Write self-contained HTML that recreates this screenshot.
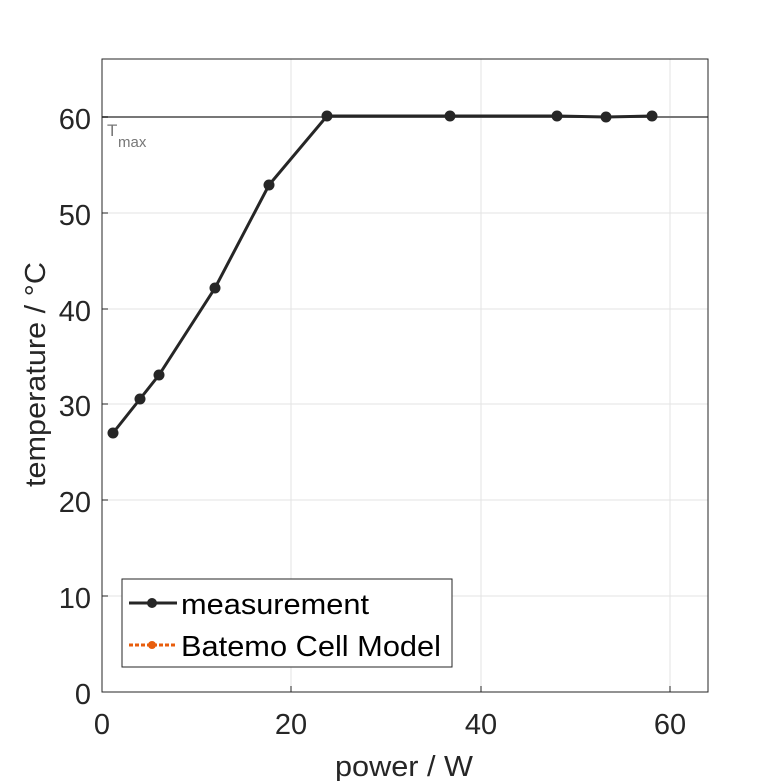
<!DOCTYPE html>
<html><head><style>body{margin:0;background:#fff}svg{display:block}text{font-family:"Liberation Sans",sans-serif}</style></head><body>
<svg width="781" height="781" viewBox="0 0 781 781">
<rect width="781" height="781" fill="#fff"/>
<g stroke="#e3e3e3" stroke-width="1">
<line x1="291" y1="59" x2="291" y2="692"/><line x1="481" y1="59" x2="481" y2="692"/><line x1="670" y1="59" x2="670" y2="692"/>
<line x1="102" y1="596" x2="708" y2="596"/><line x1="102" y1="500" x2="708" y2="500"/><line x1="102" y1="404" x2="708" y2="404"/><line x1="102" y1="309" x2="708" y2="309"/><line x1="102" y1="213" x2="708" y2="213"/><line x1="102" y1="117" x2="708" y2="117"/>
</g>
<line x1="102" y1="117" x2="708" y2="117" stroke="#777" stroke-width="2"/>
<text x="107" y="136" font-size="17" fill="#777">T</text><text x="118" y="147" font-size="15" fill="#777">max</text>
<rect x="102" y="59" width="606" height="633" fill="none" stroke="#262626" stroke-width="1"/>
<g stroke="#262626">
<line x1="291" y1="692" x2="291" y2="686"/><line x1="481" y1="692" x2="481" y2="686"/><line x1="670" y1="692" x2="670" y2="686"/>
<line x1="102" y1="596" x2="108" y2="596"/><line x1="102" y1="500" x2="108" y2="500"/><line x1="102" y1="404" x2="108" y2="404"/><line x1="102" y1="309" x2="108" y2="309"/><line x1="102" y1="213" x2="108" y2="213"/><line x1="102" y1="117" x2="108" y2="117"/>
</g>
<polyline points="113,433 140,399 159,375 215,288 269,185 327,116 450,116 557,116 606,117 652,116" fill="none" stroke="#262626" stroke-width="3"/>
<g fill="#262626">
<circle cx="113" cy="433" r="5.5"/><circle cx="140" cy="399" r="5.5"/><circle cx="159" cy="375" r="5.5"/><circle cx="215" cy="288" r="5.5"/><circle cx="269" cy="185" r="5.5"/><circle cx="327" cy="116" r="5.5"/><circle cx="450" cy="116" r="5.5"/><circle cx="557" cy="116" r="5.5"/><circle cx="606" cy="117" r="5.5"/><circle cx="652" cy="116" r="5.5"/>
</g>
<g font-size="29" fill="#262626" text-anchor="end">
<text x="91" y="704">0</text><text x="91" y="608">10</text><text x="91" y="512">20</text><text x="91" y="416">30</text><text x="91" y="321">40</text><text x="91" y="225">50</text><text x="91" y="129">60</text>
</g>
<g font-size="29" fill="#262626" text-anchor="middle">
<text x="102" y="734">0</text><text x="291" y="734">20</text><text x="481" y="734">40</text><text x="670" y="734">60</text>
</g>
<text x="335" y="776" font-size="29" fill="#262626" textLength="138" lengthAdjust="spacingAndGlyphs">power / W</text>
<text transform="translate(45,487) rotate(-90)" font-size="29" fill="#262626" textLength="225" lengthAdjust="spacingAndGlyphs">temperature / °C</text>
<rect x="122" y="579" width="330" height="88" fill="#fff" stroke="#262626" stroke-width="1"/>
<line x1="129" y1="603" x2="177" y2="603" stroke="#262626" stroke-width="3"/><circle cx="152" cy="603" r="5" fill="#262626"/>
<line x1="129" y1="645" x2="177" y2="645" stroke="#e85d0c" stroke-width="3" stroke-dasharray="4,2"/><circle cx="152" cy="645" r="4" fill="#e85d0c"/>
<text x="181" y="614" font-size="29" fill="#000" textLength="188" lengthAdjust="spacingAndGlyphs">measurement</text>
<text x="181" y="656" font-size="29" fill="#000" textLength="260" lengthAdjust="spacingAndGlyphs">Batemo Cell Model</text>
</svg>
</body></html>
